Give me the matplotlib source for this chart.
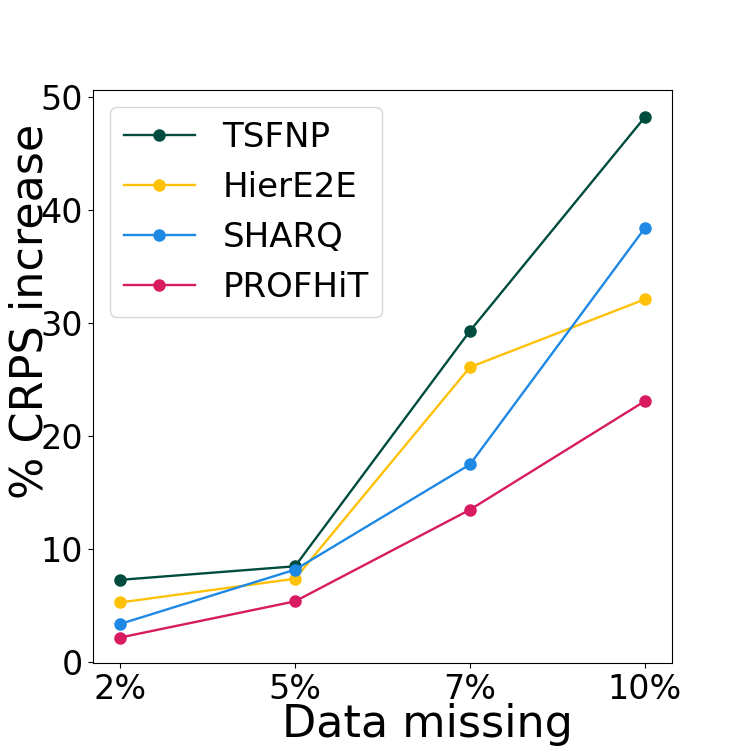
import matplotlib
matplotlib.use("Agg")
import matplotlib.pyplot as plt

categories = ["2%", "5%", "7%", "10%"]
tsfnp = [7.3, 8.5, 29.3, 48.2]
hiere2e = [5.3, 7.4, 26.1, 32.1]
sharq = [3.4, 8.2, 17.5, 38.4]
profhit = [2.2, 5.4, 13.5, 23.1]
names = ["TSFNP", "HierE2E", "SHARQ", "PROFHiT"]
colors = ["#004D40", "#FFC107", "#1E88E5", "#D81B60"]

fig = plt.figure(figsize=(7.47, 7.47), dpi=100)
ax = fig.add_axes([93/747, 1-663/747, (672-93)/747, (663-90)/747])
x = list(range(len(categories)))
for vals, name, c in zip([tsfnp, hiere2e, sharq, profhit], names, colors):
    ax.plot(x, vals, marker="o", color=c, label=name, linewidth=1.7, markersize=8)
ax.set_xticks(x)
ax.set_xticklabels(categories)
ax.set_xlim(-0.155, 3.155)
ax.set_ylim(-0.05, 50.6)
ax.set_yticks([0, 10, 20, 30, 40, 50])
ax.tick_params(labelsize=24)
ax.set_xlabel("Data missing", fontsize=32)
ax.set_ylabel("% CRPS increase", fontsize=32)
ax.xaxis.set_label_coords(0.577, -0.070)
ax.yaxis.set_label_coords(-0.071, 0.613)
ax.legend(fontsize=24.5, loc="upper left", handlelength=2.1)
fig.savefig("out.png", dpi=100)
